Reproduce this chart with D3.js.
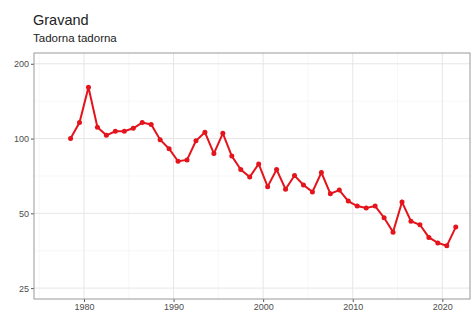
<!DOCTYPE html>
<html lang="en">
<head>
  <meta charset="UTF-8">
  <title>Gravand</title>
  <script src="https://d3js.org/d3.v7.min.js"></script>
  <style>
    body { margin: 0; background: #fff; font-family: "Liberation Sans", Arial, sans-serif; }
    .tick text { fill: #4d4d4d; font-size: 9px; font-family: "Liberation Sans", Arial, sans-serif; }
  </style>
</head>
<body>
  <div id="chart"></div>
  <script>
    // counts per season (index, 1978 = 100)
    var years = d3.range(1978, 2022);
    var index = [100, 116, 161, 111, 103, 107, 107, 110, 116, 114,
                 99, 91, 81, 82, 98, 106, 87, 105, 85, 75,
                 70, 79, 64, 75, 62.5, 71, 65, 61, 73, 60,
                 62, 56, 53.5, 52.5, 53.5, 48, 42, 55.5, 46.5, 45,
                 40, 38, 37, 44];
    var yTicks = [25, 50, 100, 200];
    var yMinor = [35.36, 70.71, 141.4];
    var xTicks = [1980, 1990, 2000, 2010, 2020];
    var xMinor = [1975, 1985, 1995, 2005, 2015];

    var W = 474, H = 311;
    var margin = {top: 53, right: 4, bottom: 12, left: 34};
    var width = W - margin.left - margin.right,
        height = H - margin.top - margin.bottom;

    var svg = d3.select("#chart").append("svg")
      .attr("width", W)
      .attr("height", H);

    svg.append("text")
      .attr("x", 33).attr("y", 25)
      .attr("font-size", "14.5px")
      .attr("fill", "#222")
      .text("Gravand");
    svg.append("text")
      .attr("x", 33).attr("y", 42)
      .attr("font-size", "11.5px")
      .attr("fill", "#222")
      .text("Tadorna tadorna");

    var g = svg.append("g")
      .attr("transform", "translate(" + margin.left + "," + margin.top + ")");

    var x = d3.scaleLinear().domain([1974.42, 2023.09]).range([0, width]);
    var y = d3.scaleLog().domain([22.6, 221]).range([height, 0]);

    // grid
    g.selectAll(".minor-x").data(xMinor).enter().append("line")
      .attr("x1", function(d) { return x(d); }).attr("x2", function(d) { return x(d); })
      .attr("y1", 0).attr("y2", height)
      .attr("stroke", "#f2f2f2").attr("stroke-width", 0.6);
    g.selectAll(".minor-y").data(yMinor).enter().append("line")
      .attr("y1", function(d) { return y(d); }).attr("y2", function(d) { return y(d); })
      .attr("x1", 0).attr("x2", width)
      .attr("stroke", "#f2f2f2").attr("stroke-width", 0.6);
    g.selectAll(".major-x").data(xTicks).enter().append("line")
      .attr("x1", function(d) { return x(d); }).attr("x2", function(d) { return x(d); })
      .attr("y1", 0).attr("y2", height)
      .attr("stroke", "#e6e6e6").attr("stroke-width", 1);
    g.selectAll(".major-y").data(yTicks).enter().append("line")
      .attr("y1", function(d) { return y(d); }).attr("y2", function(d) { return y(d); })
      .attr("x1", 0).attr("x2", width)
      .attr("stroke", "#e6e6e6").attr("stroke-width", 1);

    // axes
    var yAxis = g.append("g")
      .call(d3.axisLeft(y).tickValues(yTicks).tickFormat(d3.format("d")).tickSize(3).tickPadding(2));
    var xAxis = g.append("g")
      .attr("transform", "translate(0," + height + ")")
      .call(d3.axisBottom(x).tickValues(xTicks).tickFormat(d3.format("d")).tickSize(3).tickPadding(2));
    [xAxis, yAxis].forEach(function(a) {
      a.select(".domain").remove();
      a.selectAll(".tick line").attr("stroke", "#555");
    });

    // panel border
    g.append("rect")
      .attr("width", width).attr("height", height)
      .attr("fill", "none").attr("stroke", "#999").attr("stroke-width", 1);

    // series (seasons plotted mid-year)
    var line = d3.line()
      .x(function(d, i) { return x(years[i] + 0.5); })
      .y(function(d) { return y(d); });

    g.append("path")
      .datum(index)
      .attr("d", line)
      .attr("fill", "none")
      .attr("stroke", "#e4141c")
      .attr("stroke-width", 2);

    g.selectAll(".pt").data(index).enter().append("circle")
      .attr("cx", function(d, i) { return x(years[i] + 0.5); })
      .attr("cy", function(d) { return y(d); })
      .attr("r", 2.5)
      .attr("fill", "#e4141c");
  </script>
</body>
</html>
